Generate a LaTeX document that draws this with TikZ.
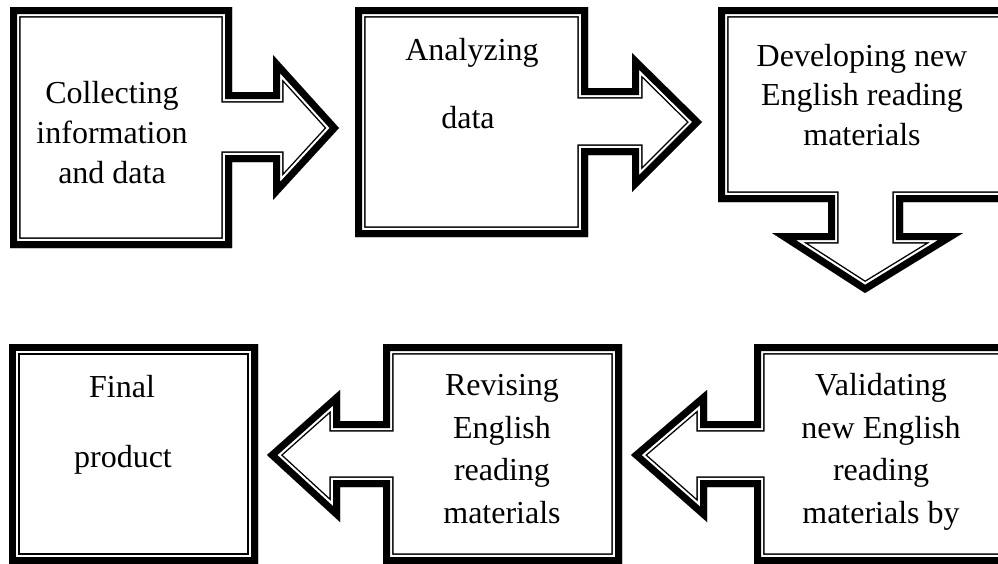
\documentclass[tikz,border=0pt]{standalone}
\usepackage{fontspec}
\setmainfont{Liberation Serif}
\newcommand{\framedshape}[1]{%
  \begin{scope}
    \clip #1;
    \fill[white] #1;
    \draw[black,line width=21.2pt] #1;
    \draw[white,line width=18.4pt] #1;
    \draw[black,line width=14pt] #1;
  \end{scope}}
\begin{document}
\begin{tikzpicture}[x=1pt,y=-1pt,line join=miter,miter limit=20,
  txt/.style={anchor=base,inner sep=0pt,font=\fontsize{32}{38}\selectfont}]
\useasboundingbox (0,0) rectangle (998,563);
\fill[white] (0,0) rectangle (998,563);
% top row
\framedshape{(10,7) -- (232,7) -- (232,92) -- (273,92) -- (273,55) -- (339,128) -- (273,200) -- (273,162) -- (232,162) -- (232,248) -- (10,248) -- cycle}
\framedshape{(355,7) -- (588,7) -- (588,88) -- (632,88) -- (632,53) -- (702,122) -- (632,192) -- (632,155) -- (588,155) -- (588,237) -- (355,237) -- cycle}
\framedshape{(718,7) -- (1010,7) -- (1010,202) -- (903,202) -- (903,233) -- (963,233) -- (865,293) -- (772,233) -- (828,233) -- (828,202) -- (718,202) -- cycle}
% bottom row
\framedshape{(9,344) -- (258,344) -- (258,564) -- (9,564) -- cycle}
\framedshape{(383,344) -- (622,344) -- (622,564) -- (383,564) -- (383,487) -- (340,487) -- (340,522) -- (267,455) -- (340,390) -- (340,421) -- (383,421) -- cycle}
\framedshape{(754,344) -- (1010,344) -- (1010,564) -- (754,564) -- (754,487) -- (707,487) -- (707,522) -- (631,455) -- (707,390) -- (707,421) -- (754,421) -- cycle}
% texts
\node[txt] (s1a) at (112,103) {Collecting};
\node[txt] (s1b) at (112,143) {information};
\node[txt] (s1c) at (112,183) {and data};
\node[txt] (s2a) at (472,60) {Analyzing};
\node[txt] (s2b) at (468,128) {data};
\node[txt] (s3a) at (862,66) {Developing new};
\node[txt] (s3b) at (862,105) {English reading};
\node[txt] (s3c) at (862,145) {materials};
\node[txt] (s4a) at (122,397) {Final};
\node[txt] (s4b) at (123,467) {product};
\node[txt] (s5a) at (502,395) {Revising};
\node[txt] (s5b) at (502,438) {English};
\node[txt] (s5c) at (502,480) {reading};
\node[txt] (s5d) at (502,523) {materials};
\node[txt] (s6a) at (881,395) {Validating};
\node[txt] (s6b) at (881,438) {new English};
\node[txt] (s6c) at (881,480) {reading};
\node[txt] (s6d) at (881,523) {materials by};
\end{tikzpicture}
\end{document}
